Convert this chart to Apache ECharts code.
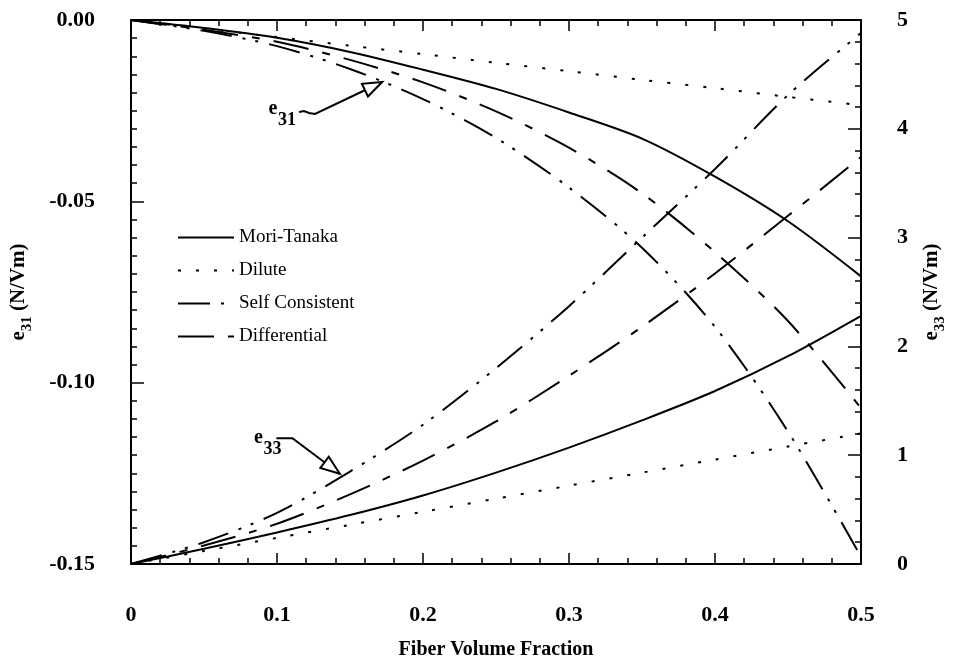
<!DOCTYPE html>
<html>
<head>
<meta charset="utf-8">
<script src="https://cdn.jsdelivr.net/npm/echarts@6/dist/echarts.min.js"></script>
<style>
  html, body { margin: 0; padding: 0; background: #fff; }
  #chart { width: 956px; height: 665px; }
</style>
</head>
<body>
<div id="chart"></div>
<script>
// fiber volume fraction
const vf = [0, 0.05, 0.1, 0.15, 0.2, 0.25, 0.3, 0.35, 0.4, 0.45, 0.5];

// e31 (N/Vm), left axis
const e31MoriTanaka = [0, -0.0022, -0.0049, -0.0088, -0.0137, -0.0190, -0.0255, -0.0327, -0.0432, -0.0555, -0.0707];
const e31Dilute = [0, -0.0024, -0.0047, -0.0071, -0.0094, -0.0118, -0.0141, -0.0165, -0.0188, -0.0212, -0.0235];
const e31SelfConsistent = [0, -0.0030, -0.0072, -0.0135, -0.0218, -0.0325, -0.0462, -0.0628, -0.0846, -0.1135, -0.1480];
const e31Differential = [0, -0.0027, -0.0060, -0.0110, -0.0172, -0.0252, -0.0352, -0.0478, -0.0640, -0.0830, -0.1070];

// e33 (N/Vm), right axis
const e33MoriTanaka = [0, 0.14, 0.29, 0.45, 0.63, 0.84, 1.07, 1.32, 1.59, 1.91, 2.28];
const e33Dilute = [0, 0.12, 0.24, 0.36, 0.48, 0.60, 0.72, 0.84, 0.96, 1.08, 1.20];
const e33SelfConsistent = [0, 0.20, 0.47, 0.85, 1.28, 1.80, 2.37, 3.00, 3.63, 4.31, 4.88];
const e33Differential = [0, 0.17, 0.37, 0.64, 0.95, 1.31, 1.73, 2.18, 2.67, 3.20, 3.74];

const FONT = "Liberation Serif";

const styles = {
  "Mori-Tanaka": "solid",
  "Dilute": [3, 15],
  "Self Consistent": [32, 11, 3, 10, 3, 11],
  "Differential": [36, 14, 8, 14],
};

function pairs(ys) {
  return vf.map((v, i) => [v, ys[i]]);
}

function mkSeries(name, ys, yIdx) {
  return {
    name: name,
    type: "line",
    yAxisIndex: yIdx,
    data: pairs(ys),
    smooth: 0.3,
    symbol: "none",
    lineStyle: { color: "#000", width: 2, type: styles[name] },
    itemStyle: { color: "#000" },
    z: 3,
  };
}

const tickFont = { fontFamily: FONT, fontWeight: "bold", fontSize: 22, color: "#000" };
const axLine = { show: true, onZero: false, lineStyle: { color: "#000", width: 2 } };

function nameRich() {
  const base = { fontFamily: FONT, fontWeight: "bold", color: "#000", verticalAlign: "bottom" };
  return {
    e: Object.assign({ fontSize: 21, padding: [0, 0, 6, 0] }, base),
    s: Object.assign({ fontSize: 15 }, base),
    t: Object.assign({ fontSize: 21, padding: [0, 0, 6, 0] }, base),
  };
}

const chart = echarts.init(document.getElementById("chart"));
chart.setOption({
  backgroundColor: "#fff",
  animation: false,
  grid: { left: 128, right: 86, top: 20, bottom: 100 },
  legend: {
    orient: "vertical",
    left: 172,
    top: 223,
    itemWidth: 56,
    itemHeight: 14,
    itemGap: 14,
    itemStyle: { opacity: 0 },
    data: ["Mori-Tanaka", "Dilute", "Self Consistent", "Differential"],
    textStyle: { fontFamily: FONT, fontSize: 19, color: "#000" },
  },
  xAxis: [
    {
      type: "value", min: 0, max: 0.5, interval: 0.1, position: "bottom",
      name: "Fiber Volume Fraction", nameLocation: "middle", nameGap: 76,
      nameTextStyle: { fontFamily: FONT, fontWeight: "bold", fontSize: 20, color: "#000" },
      axisLine: axLine,
      axisTick: { inside: true, length: 11, lineStyle: { color: "#000", width: 1.5 } },
      minorTick: { show: true, splitNumber: 5, length: 6, lineStyle: { color: "#000", width: 1.5 } },
      axisLabel: Object.assign({ margin: 40 }, tickFont),
      splitLine: { show: false },
    },
    {
      type: "value", min: 0, max: 0.5, interval: 0.1, position: "top",
      axisLine: axLine,
      axisTick: { inside: true, length: 11, lineStyle: { color: "#000", width: 1.5 } },
      minorTick: { show: true, splitNumber: 5, length: 6, lineStyle: { color: "#000", width: 1.5 } },
      axisLabel: { show: false },
      splitLine: { show: false },
    },
  ],
  yAxis: [
    {
      type: "value", min: -0.15, max: 0, interval: 0.05, position: "left",
      name: "{e|e}{s|31}{t| (N/Vm)}", nameLocation: "middle", nameGap: 96, nameRotate: 90,
      nameTextStyle: { rich: nameRich() },
      axisLine: axLine,
      axisTick: { inside: true, length: 13, lineStyle: { color: "#000", width: 1.5 } },
      minorTick: { show: true, splitNumber: 10, length: 6, lineStyle: { color: "#000", width: 1.5 } },
      axisLabel: Object.assign({ margin: 36, formatter: (v) => v.toFixed(2) }, tickFont),
      splitLine: { show: false },
    },
    {
      type: "value", min: 0, max: 5, interval: 1, position: "right",
      name: "{e|e}{s|33}{t| (N/Vm)}", nameLocation: "middle", nameGap: 60, nameRotate: 90,
      nameTextStyle: { rich: nameRich() },
      axisLine: axLine,
      axisTick: { inside: true, length: 13, lineStyle: { color: "#000", width: 1.5 } },
      minorTick: { show: true, splitNumber: 5, length: 6, lineStyle: { color: "#000", width: 1.5 } },
      axisLabel: Object.assign({ margin: 36 }, tickFont),
      splitLine: { show: false },
    },
  ],
  series: [
    mkSeries("Mori-Tanaka", e31MoriTanaka, 0),
    mkSeries("Dilute", e31Dilute, 0),
    mkSeries("Self Consistent", e31SelfConsistent, 0),
    mkSeries("Differential", e31Differential, 0),
    mkSeries("Mori-Tanaka", e33MoriTanaka, 1),
    mkSeries("Dilute", e33Dilute, 1),
    mkSeries("Self Consistent", e33SelfConsistent, 1),
    mkSeries("Differential", e33Differential, 1),
  ],
});

// annotations: e31 / e33 labels with hollow arrows, placed in data space
function px(yIdx, pt) {
  return chart.convertToPixel({ xAxisIndex: 0, yAxisIndex: yIdx }, pt);
}

function arrowHead(from, tip) {
  const ang = Math.atan2(tip[1] - from[1], tip[0] - from[0]);
  const len = 19, half = 7;
  const bx = tip[0] - len * Math.cos(ang), by = tip[1] - len * Math.sin(ang);
  const nx = -Math.sin(ang) * half, ny = Math.cos(ang) * half;
  return {
    type: "polygon",
    shape: { points: [tip, [bx + nx, by + ny], [bx - nx, by - ny]] },
    style: { fill: "#fff", stroke: "#000", lineWidth: 2 },
    z: 10,
  };
}

function label(anchor, sub) {
  return [
    { type: "text", x: anchor[0] - 4, y: anchor[1] - 6,
      style: { text: "e", font: "bold 20px '" + FONT + "'", fill: "#000", align: "center", verticalAlign: "middle" }, z: 10 },
    { type: "text", x: anchor[0] + 10, y: anchor[1] + 5,
      style: { text: sub, font: "bold 18px '" + FONT + "'", fill: "#000", align: "center", verticalAlign: "middle" }, z: 10 },
  ];
}

const a31 = px(0, [0.1, -0.0262]);
const t31 = px(0, [0.172, -0.0171]);
const s31 = [a31[0] + 22, a31[1] - 3];
const k31 = [s31[0] + 16, s31[1] + 2];
const a33 = px(1, [0.09, 1.1]);
const t33 = px(1, [0.143, 0.83]);
const s33 = [a33[0] + 14, a33[1] - 6];
const k33 = [s33[0] + 16, s33[1]];

chart.setOption({
  graphic: [].concat(
    label(a31, "31"),
    [{ type: "polyline", shape: { points: [s31, [s31[0] + 5, s31[1] - 1], [s31[0] + 10, s31[1] + 1], k31, t31] },
       style: { stroke: "#000", lineWidth: 2, fill: null }, z: 9 },
     arrowHead(k31, t31)],
    label(a33, "33"),
    [{ type: "polyline", shape: { points: [s33, k33, t33] },
       style: { stroke: "#000", lineWidth: 2, fill: null }, z: 9 },
     arrowHead(k33, t33)]
  ),
});
</script>
</body>
</html>
